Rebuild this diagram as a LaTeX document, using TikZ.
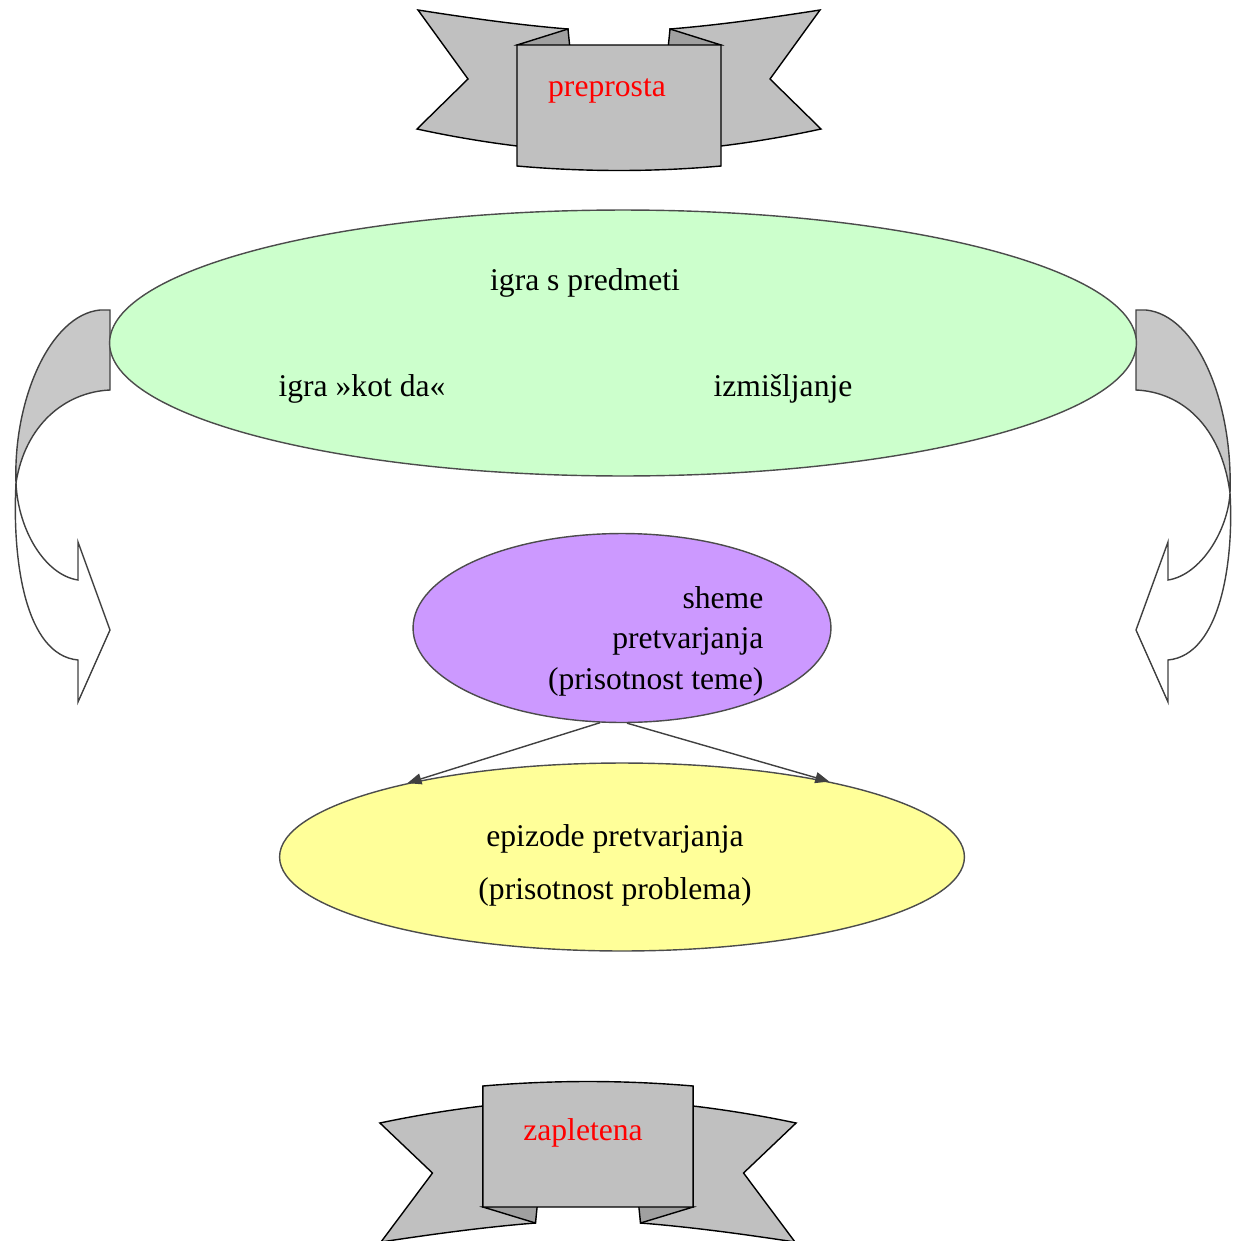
\documentclass[tikz,border=0pt]{standalone}
\usepackage{fontspec}
\setmainfont{Liberation Serif}
\usepackage{xcolor}
\definecolor{BANcolor}{HTML}{c0c0c0}
\definecolor{FOLDcolor}{HTML}{a0a0a0}
\definecolor{TURNcolor}{HTML}{c8c8c8}
\definecolor{PREDcolor}{HTML}{ccffcc}
\definecolor{SHEMcolor}{HTML}{cc99ff}
\definecolor{EPIcolor}{HTML}{ffff99}
\usepackage{tikz}
\usetikzlibrary{shapes.geometric, arrows.meta}

\begin{document}
\begin{tikzpicture}[x=0.02cm, y=-0.02cm, line width=0.8pt]
    \tikzset{%
        txt/.style={font=\fontsize{18pt}{23pt}\selectfont, inner sep=0pt},
        oval/.style={ellipse, draw=black!70, inner sep=0pt},
        tip/.style={-{Triangle[length=2.8mm, width=2.2mm]}, draw=black!75},
        pics/banner/.style={code={%
                        \foreach \s in {1, -1} {%
                                \begin{scope}[xscale=\s]
                                    \filldraw [fill=BANcolor] (-51, -77) .. controls (-100, -81) and (-150, -88) .. (-201, -96) -- (-151, -27) -- (-202, 23) .. controls (-170, 30) and (-135, 36) .. (-102, 40) -- (-51, 40) -- cycle;
                                    \filldraw [fill=FOLDcolor] (-102, -61) -- (-51, -77) -- (-49, -57) -- cycle;
                                \end{scope}
                            };
                        \filldraw [fill=BANcolor] (-102, -61) -- (102, -61) -- (102, 60) .. controls (34, 66) and (-34, 66) .. (-102, 60) -- cycle;
                    }
            },
        pics/turn/.style args={#1}{code={%
                        \filldraw [fill=TURNcolor, draw=black!75] (110, 310) -- (110, 390) .. controls (65, 392) and (25, 425) .. (16, #1) .. controls (13, 400) and (50, 315) .. (100, 310) -- cycle;
                        \filldraw [fill=white, draw=black!75] (16, #1) .. controls (18, 530) and (45, 575) .. (78, 580) -- (78, 542) -- (110, 630) -- (78, 702) -- (78, 660) .. controls (25, 655) and (12, 560) .. (16, #1) -- cycle;
                    }
            }
    }

    \useasboundingbox (0, 0) rectangle (1236, 1241);

    \pic at (619, 106) {banner};
    \pic [xscale=1.03, yscale=-1] at (588, 1146) {banner};
    \pic at (0, 0) {turn=483};
    \pic [xscale=-1] at (1246, 0) {turn=493};

    \node (igra) [oval, fill=PREDcolor, minimum width=20.54cm, minimum height=5.32cm] at (623, 343) {};
    \node (shema) [oval, fill=SHEMcolor, minimum width=8.36cm, minimum height=3.78cm] at (622, 628) {};
    \node (epizoda) [oval, fill=EPIcolor, minimum width=13.7cm, minimum height=3.76cm] at (622, 857) {};

    \node (preprosta) [txt, text=red] at (607, 91) {preprosta};
    \node (zapletena) [txt, text=red] at (583, 1133) {zapletena};
    \node (predmeti) [txt] at (585, 283) {igra s predmeti};
    \node (kotda) [txt] at (362, 389) {igra »kot da«};
    \node (izmisljanje) [txt] at (783, 389) {izmišljanje};
    \node (shematxt) [txt, align=right, anchor=east] at (764, 641) {sheme\\pretvarjanja\\(prisotnost teme)};
    \node (epizodatxt) [txt] at (615, 839) {epizode pretvarjanja};
    \node (problemtxt) [txt] at (615, 892) {(prisotnost problema)};

    \draw [tip] (shema.257) -- (epizoda.161);
    \draw [tip] (shema.273) -- (epizoda.20);
\end{tikzpicture}
\end{document}
